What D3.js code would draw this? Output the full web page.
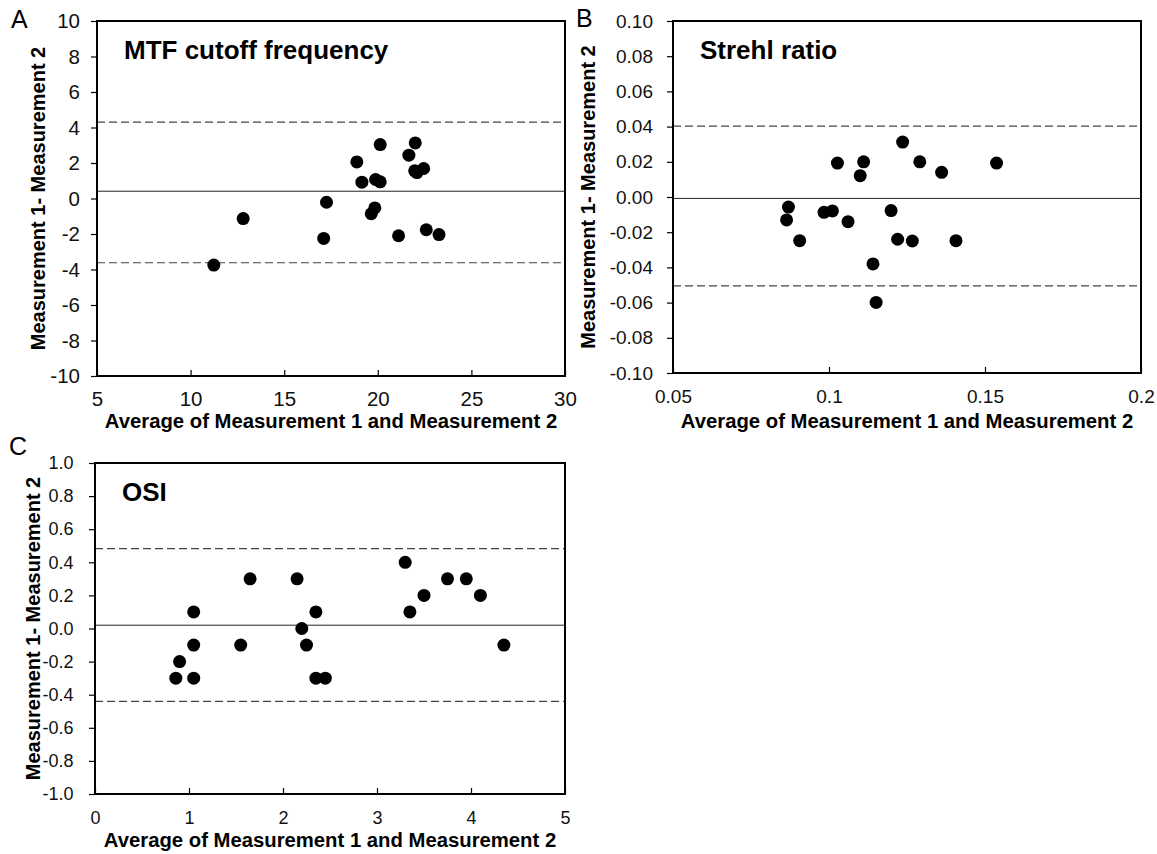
<!DOCTYPE html>
<html>
<head>
<meta charset="utf-8">
<script src="https://cdn.jsdelivr.net/npm/d3@7"></script>
<style>
  html, body { margin: 0; padding: 0; background: #fff; }
  svg { display: block; font-family: "Liberation Sans", Arial, sans-serif; }
</style>
</head>
<body>
<svg id="chart" width="1157" height="854"></svg>
<script>
/*----------------------------------------------------------------------------*/
// Data (Bland-Altman plots)

// A: MTF cutoff frequency
const mtfAvg = [11.24, 12.81, 17.11, 17.26, 18.88, 19.15, 19.65, 19.84, 19.88, 20.13,
  20.13, 21.11, 21.66, 22.0, 21.97, 22.09, 22.45, 22.59, 23.27]
const mtfDiff = [-3.75, -1.13, -2.25, -0.21, 2.06, 0.92, -0.86, -0.53, 1.07, 0.94,
  3.04, -2.10, 2.44, 3.13, 1.56, 1.46, 1.69, -1.76, -2.03]
const mtfBias = 0.41
const mtfLimits = [-3.62, 4.30]
const mtfXTicks = [5, 10, 15, 20, 25, 30]
const mtfYTicks = [-10, -8, -6, -4, -2, 0, 2, 4, 6, 8, 10]

// B: Strehl ratio
const strehlAvg = [0.0870, 0.0864, 0.0906, 0.0984, 0.1011, 0.1027, 0.1061, 0.1100, 0.1111, 0.1141,
  0.1151, 0.1199, 0.1220, 0.1236, 0.1267, 0.1291, 0.1361, 0.1407, 0.1537]
const strehlDiff = [-0.0057, -0.0130, -0.0248, -0.0087, -0.0079, 0.0193, -0.0140, 0.0121, 0.0200, -0.0380,
  -0.0599, -0.0077, -0.0240, 0.0312, -0.0250, 0.0200, 0.0140, -0.0248, 0.0193]
const strehlBias = -0.0008
const strehlLimits = [-0.0505, 0.0403]
const strehlXTicks = [0.05, 0.1, 0.15, 0.2]
const strehlYTicks = [-0.10, -0.08, -0.06, -0.04, -0.02, 0, 0.02, 0.04, 0.06, 0.08, 0.10]

// C: OSI
const osiAvg = [0.86, 0.90, 1.05, 1.05, 1.05, 1.55, 1.65, 2.15, 2.20, 2.25,
  2.35, 2.35, 2.45, 3.30, 3.35, 3.50, 3.75, 3.95, 4.10, 4.35]
const osiDiff = [-0.3, -0.2, -0.3, -0.1, 0.1, -0.1, 0.3, 0.3, 0.0, -0.1,
  0.1, -0.3, -0.3, 0.4, 0.1, 0.2, 0.3, 0.3, 0.2, -0.1]
const osiBias = 0.02
const osiLimits = [-0.44, 0.483]
const osiXTicks = [0, 1, 2, 3, 4, 5]
const osiYTicks = [-1.0, -0.8, -0.6, -0.4, -0.2, 0, 0.2, 0.4, 0.6, 0.8, 1.0]

const xTitle = 'Average of Measurement 1 and Measurement 2'
const yTitle = 'Measurement 1- Measurement 2'

/*----------------------------------------------------------------------------*/

// plain hyphen for negatives, like the original figure
const fmt = d3.formatLocale({ decimal: '.', thousands: ',', grouping: [3], currency: ['', ''], minus: '-' }).format

const svg = d3.select('#chart')

const drawPanel = ({ letter, letterPos, title, box, avg, diff, bias, limits, xTicks, yTicks, xFmt, yFmt, tickFont, yPad, xPad, yTitleX, xTitleDy }) => {
  const { left, right, top, bottom } = box

  const x = d3.scaleLinear()
    .domain(d3.extent(xTicks))
    .range([left, right])

  const y = d3.scaleLinear()
    .domain(d3.extent(yTicks))
    .range([bottom, top])

  const g = svg.append('g')

  // reference lines
  g.append('line')
    .attr('x1', left).attr('x2', right)
    .attr('y1', y(bias)).attr('y2', y(bias))
    .attr('stroke', '#222')
    .attr('stroke-width', 1)

  g.selectAll('.loa')
    .data(limits)
    .enter()
    .append('line')
    .attr('class', 'loa')
    .attr('x1', left).attr('x2', right)
    .attr('y1', d => y(d)).attr('y2', d => y(d))
    .attr('stroke', '#444')
    .attr('stroke-width', 1.2)
    .attr('stroke-dasharray', '8,4')

  // points
  g.selectAll('circle')
    .data(avg.map((a, i) => [a, diff[i]]))
    .enter()
    .append('circle')
    .attr('cx', d => x(d[0]))
    .attr('cy', d => y(d[1]))
    .attr('r', 6.5)
    .attr('fill', '#000')

  // axes
  const yAxis = d3.axisLeft(y)
    .tickValues(yTicks)
    .tickFormat(yFmt)
    .tickSize(6)
    .tickPadding(yPad)

  const xAxis = d3.axisBottom(x)
    .tickValues(xTicks)
    .tickFormat(xFmt)
    .tickSize(-6)
    .tickPadding(xPad)

  const ya = g.append('g')
    .attr('transform', `translate(${left},0)`)
    .call(yAxis)

  const xa = g.append('g')
    .attr('transform', `translate(0,${bottom})`)
    .call(xAxis)

  ;[ya, xa].forEach(a => {
    a.select('.domain').remove()
    a.selectAll('.tick line').attr('stroke', '#000').attr('stroke-width', 1.2)
    a.selectAll('.tick text')
      .attr('fill', '#111')
      .style('font-size', tickFont + 'px')
  })

  // frame
  g.append('rect')
    .attr('x', left).attr('y', top)
    .attr('width', right - left)
    .attr('height', bottom - top)
    .attr('fill', 'none')
    .attr('stroke', '#000')
    .attr('stroke-width', 2)

  // titles
  g.append('text')
    .attr('x', (left + right) / 2)
    .attr('y', bottom + xTitleDy)
    .attr('text-anchor', 'middle')
    .style('font-size', '20.3px')
    .style('font-weight', 'bold')
    .text(xTitle)

  g.append('text')
    .attr('transform', `translate(${yTitleX},${(top + bottom) / 2}) rotate(-90)`)
    .attr('text-anchor', 'middle')
    .style('font-size', '20px')
    .style('font-weight', 'bold')
    .text(yTitle)

  g.append('text')
    .attr('x', left + 27)
    .attr('y', top + 38)
    .style('font-size', '26px')
    .style('font-weight', 'bold')
    .text(title)

  g.append('text')
    .attr('x', letterPos[0])
    .attr('y', letterPos[1])
    .style('font-size', '25px')
    .text(letter)
}

drawPanel({
  letter: 'A', letterPos: [11, 28],
  title: 'MTF cutoff frequency',
  box: { left: 97, right: 565, top: 21, bottom: 376 },
  avg: mtfAvg, diff: mtfDiff, bias: mtfBias, limits: mtfLimits,
  xTicks: mtfXTicks, yTicks: mtfYTicks,
  xFmt: fmt('d'), yFmt: fmt('d'),
  tickFont: 20.5, yPad: 11, xPad: 15, yTitleX: 45, xTitleDy: 52,
})

drawPanel({
  letter: 'B', letterPos: [576, 27],
  title: 'Strehl ratio',
  box: { left: 673, right: 1141, top: 21, bottom: 373 },
  avg: strehlAvg, diff: strehlDiff, bias: strehlBias, limits: strehlLimits,
  xTicks: strehlXTicks, yTicks: strehlYTicks,
  xFmt: d => String(d), yFmt: fmt('.2f'),
  tickFont: 19, yPad: 14, xPad: 17, yTitleX: 595, xTitleDy: 55,
})

drawPanel({
  letter: 'C', letterPos: [9, 455],
  title: 'OSI',
  box: { left: 95, right: 565, top: 463, bottom: 794 },
  avg: osiAvg, diff: osiDiff, bias: osiBias, limits: osiLimits,
  xTicks: osiXTicks, yTicks: osiYTicks,
  xFmt: fmt('d'), yFmt: fmt('.1f'),
  tickFont: 18, yPad: 15.5, xPad: 17, yTitleX: 40, xTitleDy: 53,
})
</script>
</body>
</html>
